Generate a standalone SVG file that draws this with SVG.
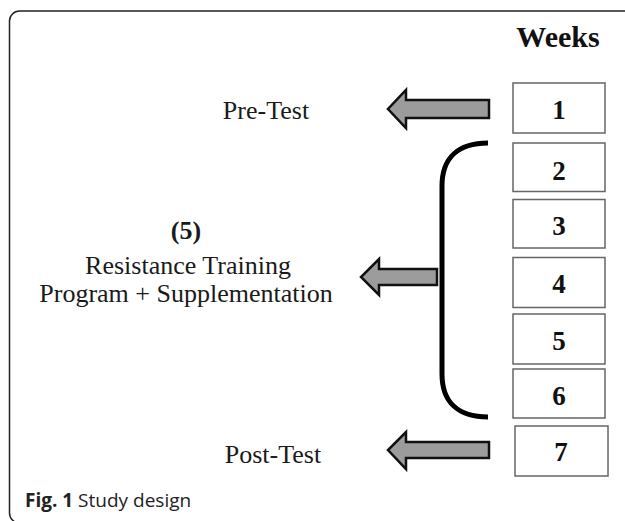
<svg xmlns="http://www.w3.org/2000/svg" width="625" height="521" viewBox="0 0 625 521">
  <style>
    .box { fill: #ffffff; stroke: #666666; stroke-width: 1.5; }
    .num { font-family: "Liberation Serif", "Times New Roman", serif; font-weight: bold; font-size: 27px; text-anchor: middle; fill: #111111; }
    .lbl { font-family: "Liberation Serif", "Times New Roman", serif; font-size: 26px; text-anchor: middle; fill: #1a1a1a; }
    .arrow { fill: #9c9c9c; stroke: #111111; stroke-width: 2.5; stroke-linejoin: miter; }
    .brace { fill: none; stroke: #000000; stroke-width: 5; stroke-linecap: butt; }
    .cap { font-family: "Open Sans", "Noto Sans", sans-serif; font-size: 19px; fill: #222222; }
  </style>
  <rect width="625" height="521" fill="#ffffff"/>
  <rect id="frame" x="9.5" y="11" width="640" height="512" rx="10" ry="10" fill="none" stroke="#222222" stroke-width="1.5"/>

  <g id="weeks-title">
    <text x="558" y="47" font-family="Liberation Serif, Times New Roman, serif" font-weight="bold" font-size="30" text-anchor="middle" fill="#111111">Weeks</text>
  </g>

  <g id="week1"><rect class="box" x="513" y="83" width="92" height="50"/><text class="num" x="559" y="119">1</text></g>
  <g id="week2"><rect class="box" x="513" y="143" width="92" height="48.5"/><text class="num" x="559" y="180">2</text></g>
  <g id="week3"><rect class="box" x="513" y="199.5" width="92" height="48.5"/><text class="num" x="559" y="235">3</text></g>
  <g id="week4"><rect class="box" x="513" y="257.5" width="92" height="50"/><text class="num" x="559" y="293">4</text></g>
  <g id="week5"><rect class="box" x="513" y="314" width="92" height="50"/><text class="num" x="559" y="350">5</text></g>
  <g id="week6"><rect class="box" x="513" y="369" width="92" height="49"/><text class="num" x="559" y="405">6</text></g>
  <g id="week7"><rect class="box" x="515" y="426" width="93" height="50"/><text class="num" x="561" y="461">7</text></g>

  <g id="pre-test"><text class="lbl" x="266" y="119">Pre-Test</text></g>
  <g id="training">
    <text class="lbl" x="186" y="239" font-weight="bold">(5)</text>
    <text class="lbl" x="188" y="274">Resistance Training</text>
    <text class="lbl" x="186" y="302">Program + Supplementation</text>
  </g>
  <g id="post-test"><text class="lbl" x="273" y="463">Post-Test</text></g>

  <g id="connectors">
    <path class="arrow" d="M489,100 L406,100 L406,90 L388,109 L406,128 L406,118 L489,118 Z"/>
    <path class="arrow" d="M437,269 L379,269 L379,259 L361,277 L379,295 L379,285 L437,285 Z"/>
    <path class="arrow" d="M489,442 L406,442 L406,432 L388,450 L406,469 L406,458 L489,458 Z"/>
    <path class="brace" d="M488,143 C458,143 442,158 442,186 L442,374 C442,402 458,417 488,417"/>
  </g>

  <g id="caption">
    <text class="cap" x="25" y="507"><tspan font-weight="bold">Fig. 1</tspan> Study design</text>
  </g>
</svg>
